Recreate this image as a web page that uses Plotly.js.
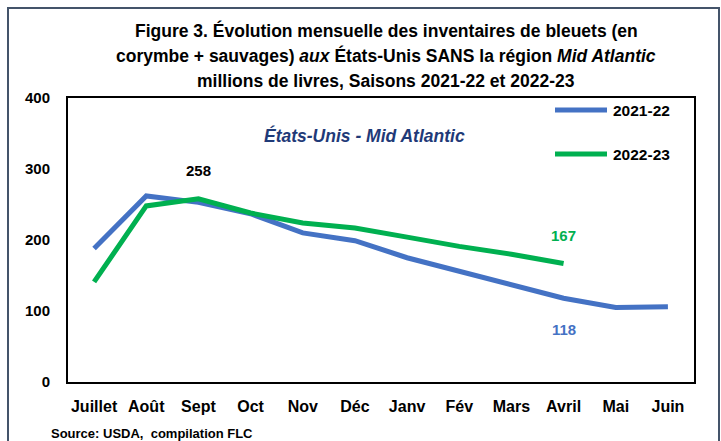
<!DOCTYPE html>
<html>
<head>
<meta charset="utf-8">
<script src="https://cdn.plot.ly/plotly-3.0.1.min.js"></script>
<style>html,body{margin:0;padding:0;background:#fff;}#chart{width:721px;height:441px;}</style>
</head>
<body>
<div id="chart"></div>
<script>
const months = ["Juillet","Août","Sept","Oct","Nov","Déc","Janv","Fév","Mars","Avril","Mai","Juin"];
const s2122 = [188, 262, 253, 237, 210, 199, 175, 156, 137, 118, 105, 106];
const s2223 = [141, 248, 258, 238, 224, 217, 204, 191, 180, 167];
const seriesNames = ["2021-22", "2022-23"];
const yTicks = [0, 100, 200, 300, 400];
const titleLines = [
  "<b>Figure 3. Évolution mensuelle des inventaires de bleuets (en</b>",
  "<b>corymbe + sauvages) <i>aux</i> États-Unis SANS la région <i>Mid Atlantic</i></b>",
  "<b>millions de livres, Saisons 2021-22 et 2022-23</b>"
];

const F = "'Liberation Sans', Arial, sans-serif";
const blue = "#4472C4", green = "#00B050";
const colors = [blue, green];

const W = 721, H = 441, M = {l: 68, r: 27, t: 98, b: 59};
const pw = W - M.l - M.r, ph = H - M.t - M.b;
const px = v => (v - M.l) / pw;
const py = v => (H - M.b - v) / ph;

const traces = [
  {x: months.slice(0, s2122.length), y: s2122, name: seriesNames[0], type: "scatter", mode: "lines",
   line: {color: blue, width: 5}},
  {x: months.slice(0, s2223.length), y: s2223, name: seriesNames[1], type: "scatter", mode: "lines",
   line: {color: green, width: 5}}
];

const iMax = s2223.indexOf(Math.max(...s2223));
const last23 = s2223.length - 1;

const annotations = [
  {x: months[iMax], y: s2223[iMax], text: "<b>" + s2223[iMax] + "</b>", showarrow: false, yshift: 28,
   font: {family: F, size: 15, color: "#000"}},
  {x: months[last23], y: s2223[last23], text: "<b>" + s2223[last23] + "</b>",
   showarrow: false, yshift: 28, font: {family: F, size: 15, color: green}},
  {x: months[last23], y: s2122[last23], text: "<b>" + s2122[last23] + "</b>", showarrow: false, yshift: -31,
   font: {family: F, size: 15, color: blue}},
  {xref: "paper", yref: "paper", x: px(364), y: py(135), text: "<b><i>États-Unis - Mid Atlantic</i></b>",
   showarrow: false, xanchor: "center", yanchor: "middle", font: {family: F, size: 17.5, color: "#1F3A78"}},
  {xref: "paper", yref: "paper", x: px(49), y: py(433), text: "<b>Source: USDA,  compilation FLC</b>",
   showarrow: false, xanchor: "left", yanchor: "middle", font: {family: F, size: 13, color: "#000"}}
];
const titleY = [30, 56, 81];
titleLines.forEach((t, i) => annotations.push({
  xref: "paper", yref: "paper", x: px(386), y: py(titleY[i]), text: t, showarrow: false,
  xanchor: "center", yanchor: "middle", font: {family: F, size: 17.5, color: "#000"}
}));
const legY = [110, 154];
seriesNames.forEach((n, i) => annotations.push({
  xref: "paper", yref: "paper", x: px(611), y: py(legY[i]), text: "<b>" + n + "</b>", showarrow: false,
  xanchor: "left", yanchor: "middle", font: {family: F, size: 15.5, color: "#000"}
}));

const shapes = [
  {type: "path", xref: "paper", yref: "paper",
   path: `M ${px(8)} ${py(445)} L ${px(8)} ${py(8)} L ${px(719)} ${py(8)} L ${px(719)} ${py(445)}`,
   line: {color: "#44546A", width: 2}}
];
seriesNames.forEach((n, i) => shapes.push({
  type: "line", xref: "paper", yref: "paper", x0: px(555), x1: px(607), y0: py(legY[i]), y1: py(legY[i]),
  line: {color: colors[i], width: 5}
}));

const layout = {
  width: W, height: H,
  margin: M,
  paper_bgcolor: "#fff", plot_bgcolor: "#fff",
  font: {family: F, size: 15, color: "#000"},
  showlegend: false,
  xaxis: {
    type: "category", categoryarray: months, range: [-0.5, 11.5],
    showline: true, linecolor: "#000", linewidth: 2, mirror: true,
    showgrid: false, zeroline: false, ticks: "", ticklabelstandoff: 9,
    tickfont: {family: F, size: 16, color: "#000", weight: "bold"}
  },
  yaxis: {
    range: [0, 400], tickvals: yTicks, ticktext: yTicks.map(String),
    showline: true, linecolor: "#000", linewidth: 2, mirror: true,
    showgrid: false, zeroline: false, ticks: "", ticklabelstandoff: 13,
    tickfont: {family: F, size: 15, color: "#000", weight: "bold"}
  },
  annotations: annotations,
  shapes: shapes
};

Plotly.newPlot("chart", traces, layout, {displayModeBar: false, staticPlot: true});
</script>
</body>
</html>
